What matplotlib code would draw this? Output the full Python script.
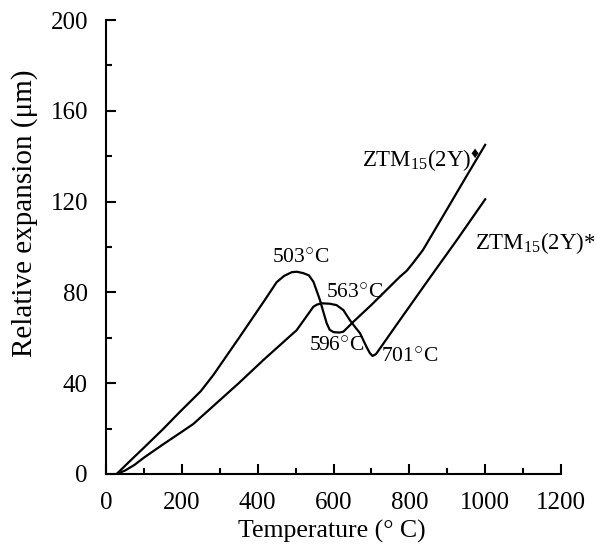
import matplotlib
matplotlib.use("Agg")
import matplotlib.pyplot as plt
from matplotlib.ticker import MultipleLocator

plt.rcParams['font.family'] = ['Liberation Serif', 'DejaVu Sans']
plt.rcParams['mathtext.fontset'] = 'custom'
plt.rcParams['mathtext.rm'] = 'Liberation Serif'
plt.rcParams['mathtext.it'] = 'Liberation Serif:italic'
plt.rcParams['mathtext.bf'] = 'Liberation Serif:bold'

# ZTM15(2Y)◆ curve
temp_a = [28, 60, 100, 150, 195, 250, 283, 353, 419, 450, 470, 490, 503, 520, 535, 547,
          556, 564, 573, 582, 590, 600, 615, 626, 640, 652, 700, 775, 793, 810, 836,
          900, 950, 1000]
exp_a = [0, 5.2, 11.6, 19.7, 27.4, 36.5, 43.6, 60.5, 76.7, 84.5, 87.3, 88.9, 89.1, 88.5,
         87.5, 84.7, 80.5, 76.7, 71.5, 66.4, 63.5, 62.5, 62.3, 62.7, 65, 67, 74.5, 86.9,
         89.5, 93, 98.7, 116.8, 131, 145]

# ZTM15(2Y)* curve
temp_b = [28, 50, 75, 100, 150, 200, 230, 260, 300, 350, 415, 503, 547, 556, 569, 590,
          608, 626, 643, 658, 670, 687, 696, 703, 712, 775, 850, 925, 1000]
exp_b = [0, 1.5, 4, 7.2, 13, 18.6, 22, 26.5, 32.5, 40, 50.2, 63.4, 73.7, 74.6, 75.2, 75,
         74.4, 72.2, 67.8, 64.5, 62, 56, 53.2, 52, 52.8, 67.8, 85.5, 103, 121]

labels = ['ZTM$_{15}$(2Y)$^{\u2666}$', 'ZTM$_{15}$(2Y)*']
label_pos = [(674, 138.2), (973, 101.8)]

peak_labels = ['503$^{\u25cb}$C', '563$^{\u25cb}$C', '596$^{\u25cb}$C', '701$^{\u25cb}$C']
peak_pos = [(437, 94.6), (580, 79.3), (536, 55.8), (725, 51.1)]

fig = plt.figure(figsize=(5.97, 5.53), dpi=100)
ax = fig.add_axes([0.1776, 0.1429, 0.7621, 0.8209])

ax.plot(temp_a, exp_a, color='black', lw=1.6)
ax.plot(temp_b, exp_b, color='black', lw=1.6)

for t, (x, y) in zip(labels, label_pos):
    ax.text(x, y, t, fontsize=16.5, va='center', ha='left')
for t, (x, y) in zip(peak_labels, peak_pos):
    ax.text(x, y, t, fontsize=15.5, va='center', ha='left')

ax.set_xlim(0, 1200)
ax.set_ylim(0, 200)
ax.xaxis.set_major_locator(MultipleLocator(200))
ax.xaxis.set_minor_locator(MultipleLocator(100))
ax.yaxis.set_major_locator(MultipleLocator(40))
ax.yaxis.set_minor_locator(MultipleLocator(20))
ax.tick_params(which='major', direction='in', length=7, width=1.5, labelsize=18)
ax.tick_params(axis='x', which='major', pad=13)
ax.tick_params(axis='y', which='major', pad=13)
ax.tick_params(which='minor', direction='in', length=4, width=1.5)
ax.spines['top'].set_visible(False)
ax.spines['right'].set_visible(False)
ax.spines['left'].set_linewidth(1.5)
ax.spines['bottom'].set_linewidth(1.5)

ax.set_xlabel('Temperature (° C)', fontsize=18.5, va='center', ha='center')
ax.xaxis.set_label_coords(0.497, -0.1256)
ax.set_ylabel('Relative expansion (μm)', fontsize=21, va='center', ha='center')
ax.yaxis.set_label_coords(-0.179, 0.575)

fig.savefig('out.png', dpi=100)
